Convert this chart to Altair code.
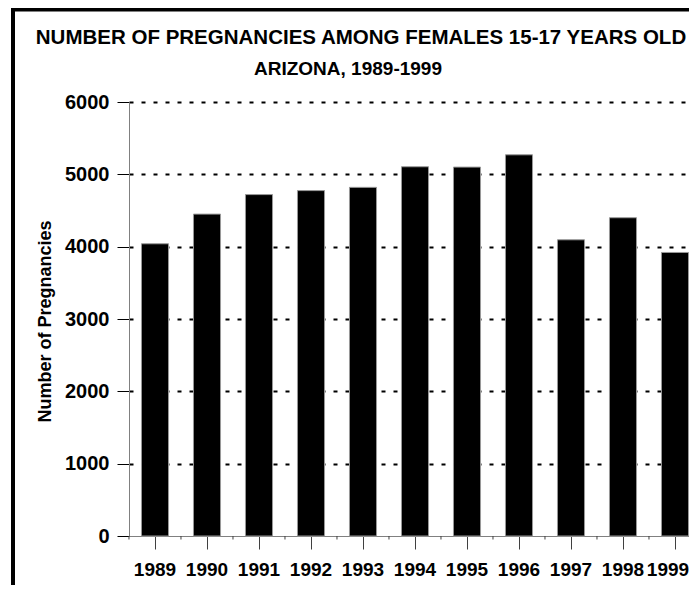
import altair as alt
import pandas as pd

years = ["1989", "1990", "1991", "1992", "1993", "1994", "1995", "1996", "1997", "1998", "1999"]
pregnancies = [4040, 4450, 4720, 4775, 4820, 5105, 5100, 5270, 4095, 4400, 3920]
y_ticks = [0, 1000, 2000, 3000, 4000, 5000, 6000]
title_lines = ["NUMBER OF PREGNANCIES AMONG FEMALES 15-17 YEARS OLD", "ARIZONA, 1989-1999"]
y_title = "Number of Pregnancies"

df = pd.DataFrame({"year": years, "value": pregnancies})

LAB = "Liberation Sans"

xscale = alt.Scale(domain=years, range=[0, 572], paddingInner=0.48, paddingOuter=0.24)
yscale = alt.Scale(domain=[0, 6000], nice=False)

xaxis = alt.Axis(title=None, labelAngle=0, labelFont=LAB, labelFontSize=19,
                 labelFontWeight="bold", labelColor="black", labelPadding=11,
                 labelOffset=alt.condition("datum.value === '1999'", alt.value(-7), alt.value(0)),
                 tickSize=13, tickColor="#404040", tickWidth=1,
                 domainColor="#808080", domainWidth=1, grid=False)

bars = alt.Chart(df).mark_bar(color="black", stroke="#999999", strokeWidth=1).encode(
    x=alt.X("year:N", scale=xscale, sort=years, axis=xaxis),
    y=alt.Y("value:Q", scale=yscale,
            axis=alt.Axis(title=y_title, values=y_ticks, format="d", labelFont=LAB, labelFontSize=20,
                          labelFontWeight="bold", labelColor="black", labelPadding=8,
                          tickSize=12, tickColor="black", tickWidth=1,
                          domainColor="#808080", domainWidth=1,
                          grid=True, gridColor="black", gridWidth=2, gridDash=[4, 8],
                          gridOpacity=alt.condition("datum.value === 0", alt.value(0), alt.value(1)),
                          titleFont=LAB, titleFontSize=18, titleFontWeight="bold",
                          titleColor="black", titleAngle=-90, titleBaseline="alphabetic",
                          titleAlign="center", titleX=-78.5, titleY=219)),
)

minor_ticks = alt.Chart(df).mark_rule(color="#404040", strokeWidth=1, xOffset=-12.5).encode(
    x=alt.X("year:N", scale=xscale, sort=years, bandPosition=0, axis=xaxis),
    y=alt.value(434), y2=alt.value(437.5),
)

frame_data = alt.Data(values=[{"k": 1}])
left_border = alt.Chart(frame_data).mark_rect(color="black").encode(
    x=alt.value(-118), x2=alt.value(-114), y=alt.value(-95), y2=alt.value(491)
)
top_border = alt.Chart(frame_data).mark_rect(color="black").encode(
    x=alt.value(-118), x2=alt.value(560), y=alt.value(-95), y2=alt.value(-90.5)
)

t_df = pd.DataFrame({"line": title_lines})
title1 = alt.Chart(t_df).transform_filter(alt.datum.line == title_lines[0]).mark_text(
    font=LAB, fontSize=20.5, fontWeight="bold", color="black", align="center", baseline="alphabetic"
).encode(text="line:N", x=alt.value(232), y=alt.value(-58.5))
title2 = alt.Chart(t_df).transform_filter(alt.datum.line == title_lines[1]).mark_text(
    font=LAB, fontSize=19, fontWeight="bold", color="black", align="center", baseline="alphabetic"
).encode(text="line:N", x=alt.value(219), y=alt.value(-27))

chart = alt.layer(bars, minor_ticks, left_border, top_border, title1, title2).properties(
    width=560, height=434,
    autosize=alt.AutoSizeParams(type="none"),
    padding={"left": 121, "top": 94, "right": 0, "bottom": 49},
    background="white",
).configure_view(strokeWidth=0)

chart.save("out.html", embed_options={"renderer": "svg", "actions": False})
